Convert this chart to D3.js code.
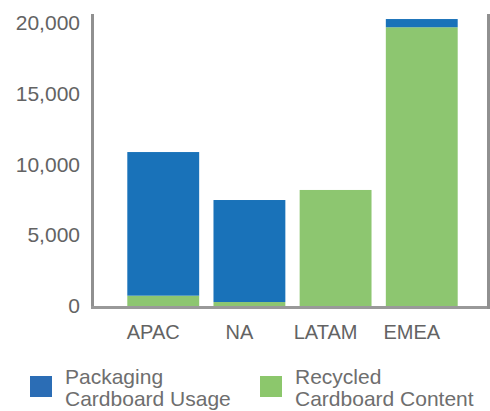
<!DOCTYPE html>
<html>
<head>
<meta charset="utf-8">
<script src="https://cdn.jsdelivr.net/npm/d3@7/dist/d3.min.js"></script>
<style>
  html, body { margin: 0; padding: 0; background: #fff; }
  svg { display: block; font-family: "Liberation Sans", Arial, Helvetica, sans-serif; }
</style>
</head>
<body>
<svg id="chart" width="490" height="411"></svg>
<script>
// Regions along the x axis
const regions = ["APAC", "NA", "LATAM", "EMEA"];
// Stacked series: recycled content sits at the bottom, packaging usage on top
const recycledContent = [730, 280, 8200, 19700];
const packagingUsage = [10150, 7210, 0, 580];
// Axis ticks
const yTicks = [0, 5000, 10000, 15000, 20000];
const seriesNames = ["Packaging\nCardboard Usage", "Recycled\nCardboard Content"];
const seriesColors = ["#1972b9", "#8dc670"];
const legendColors = ["#2b6db5", "#8cc76c"];

const svg = d3.select("#chart");

const x = d3.scaleBand()
  .domain(regions)
  .range([113, 472])
  .paddingInner(0.166)
  .paddingOuter(0.166);

const y = d3.scaleLinear()
  .domain([0, 20000])
  .range([306, 23]);

const rows = regions.map((r, i) => ({
  region: r,
  recycled: recycledContent[i],
  packaging: packagingUsage[i]
}));

const stack = d3.stack().keys(["recycled", "packaging"]);
const layers = stack(rows);
const layerColor = { recycled: seriesColors[1], packaging: seriesColors[0] };

svg.append("g")
  .selectAll("g")
  .data(layers)
  .join("g")
  .attr("fill", d => layerColor[d.key])
  .selectAll("rect")
  .data(d => d)
  .join("rect")
  .attr("x", d => x(d.data.region))
  .attr("width", x.bandwidth())
  .attr("y", d => y(d[1]))
  .attr("height", d => y(d[0]) - y(d[1]));

// Frame: left axis, bottom axis and right edge
const axisColor = "#909090";
svg.append("line")
  .attr("x1", 92.5).attr("x2", 92.5)
  .attr("y1", 14).attr("y2", 309)
  .attr("stroke", axisColor).attr("stroke-width", 3);
svg.append("line")
  .attr("x1", 91).attr("x2", 490)
  .attr("y1", 307.5).attr("y2", 307.5)
  .attr("stroke", "#999").attr("stroke-width", 3);
svg.append("line")
  .attr("x1", 488.5).attr("x2", 488.5)
  .attr("y1", 14).attr("y2", 309)
  .attr("stroke", axisColor).attr("stroke-width", 3);

// Y axis labels
const yAxis = d3.axisLeft(y)
  .tickValues(yTicks)
  .tickSize(0)
  .tickPadding(0)
  .tickFormat(d3.format(","));
const yg = svg.append("g")
  .attr("transform", "translate(80,0)")
  .call(yAxis);
yg.select(".domain").remove();
yg.selectAll("text")
  .attr("fill", "#636363")
  .attr("font-size", 21)
  .attr("font-family", "Liberation Sans, Arial, sans-serif");

// X axis labels
const xAxis = d3.axisBottom(x).tickSize(0).tickPadding(0);
const xg = svg.append("g")
  .attr("transform", "translate(-10,325)")
  .call(xAxis);
xg.select(".domain").remove();
xg.selectAll("text")
  .attr("fill", "#636363")
  .attr("font-size", 20)
  .attr("font-family", "Liberation Sans, Arial, sans-serif")
  .attr("dy", "0.71em");

// Legend
const legendX = [30, 260];
const legend = svg.append("g")
  .selectAll("g")
  .data(seriesNames)
  .join("g")
  .attr("transform", (d, i) => `translate(${legendX[i]},376)`);

legend.append("rect")
  .attr("width", 22)
  .attr("height", 21)
  .attr("fill", (d, i) => legendColors[i]);

legend.append("text")
  .attr("x", 35)
  .attr("y", 8)
  .attr("fill", "#6e6e6e")
  .attr("font-size", 21)
  .selectAll("tspan")
  .data(d => d.split("\n"))
  .join("tspan")
  .attr("x", 35)
  .attr("dy", (d, i) => i === 0 ? 0 : 22)
  .text(d => d);
</script>
</body>
</html>
